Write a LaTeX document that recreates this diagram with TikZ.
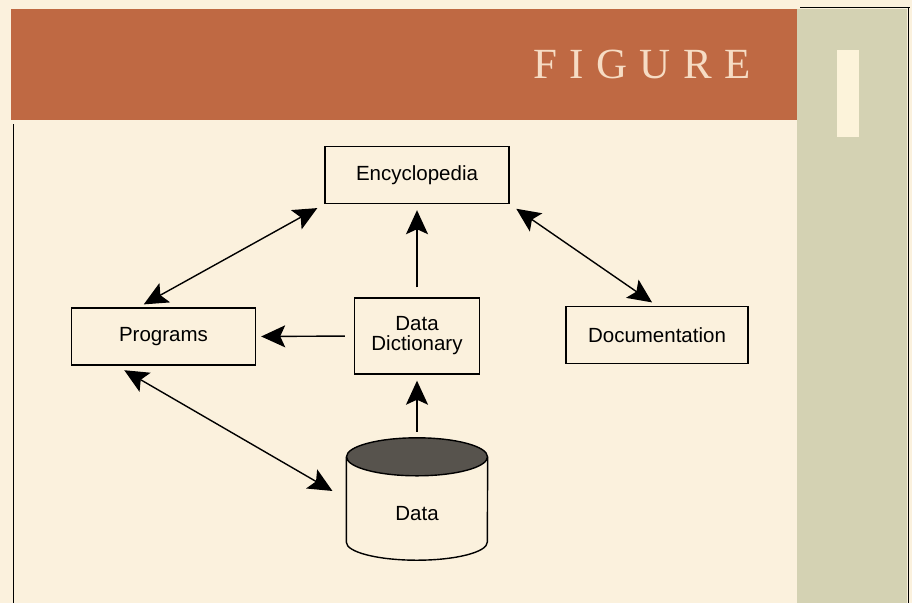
\documentclass[tikz,border=0pt]{standalone}
\usepackage{fontspec}
\setmainfont{Liberation Sans}
\newfontfamily\figfont[LetterSpace=29]{Liberation Serif}
\usepackage{tikz}
\usetikzlibrary{arrows.meta,positioning,calc}
\definecolor{paper}{HTML}{FBF1DD}
\definecolor{rust}{HTML}{BF6943}
\definecolor{sage}{HTML}{D4D2B3}
\definecolor{barlight}{HTML}{FCF3DA}
\definecolor{figtext}{HTML}{F6DCC4}
\definecolor{lid}{HTML}{57534D}

\begin{document}
\begin{tikzpicture}[x=1pt,y=-1pt,
		box/.style={draw,line width=1.4pt,minimum width=184pt,minimum height=57pt,align=center,inner sep=2pt,font=\fontsize{20.5}{20}\selectfont},
		e/.style={-{Stealth[length=24pt,width=22pt,inset=5pt]},line width=1.4pt},
		ee/.style={{Stealth[length=24pt,width=22pt,inset=5pt]}-{Stealth[length=24pt,width=22pt,inset=5pt]},line width=1.4pt}
		]
		\useasboundingbox (0,0) rectangle (912,603);
		\fill[paper] (0,0) rectangle (912,603);
		\fill[rust] (11,9) rectangle (797,120);
		\fill[sage] (797,9) rectangle (907,603);
		\fill[barlight] (837,50) rectangle (859,137);
		\draw[line width=1pt] (800,7) -- (910,7) (908,7) -- (908,603);
		\draw[line width=1pt] (13,124) -- (13,603);
		\node[anchor=base west,inner sep=0pt,text=figtext,font=\figfont\fontsize{43}{43}\selectfont] (fig) at (533,78) {FIGURE};
		\node[box] (enc) at (417,175) {Encyclopedia};
		\node[box] (prog) at (163.5,336.5) {Programs};
		\node[box,minimum width=125pt,minimum height=76pt] (dict) at (417,336) {Data\\Dictionary};
		\node[box,minimum width=182pt] (doc) at (657,335) {Documentation};
		\node[minimum width=141pt,minimum height=122pt] (data) at (417,499) {};
		\draw[line width=1.4pt] ([yshift=-19pt]data.north west) -- ([yshift=18pt]data.south west) arc[start angle=180,end angle=360,x radius=70.5pt,y radius=18pt] -- ([yshift=-19pt]data.north east);
		\draw[line width=1.4pt,fill=lid] ([yshift=-19pt]data.north) ellipse[x radius=70.5pt,y radius=19pt];
		\node[font=\fontsize{20.5}{20}\selectfont] (datatxt) at ([yshift=-15pt]data.center) {Data};
		\draw[e,shorten <=10pt,shorten >=6pt] (dict.north) -- (enc.south);
		\draw[e,shorten <=9pt,shorten >=5pt] (dict.west) -- (prog.east);
		\draw[e,shorten <=6pt,shorten >=6pt] (data.north) -- (dict.south);
		\draw[ee,shorten <=8pt,shorten >=6pt] (enc.south west) -- ([xshift=-25pt]prog.north);
		\draw[ee,shorten <=8pt,shorten >=6pt] (enc.south east) -- (doc.north);
		\draw[ee,shorten <=9pt,shorten >=16pt] ([xshift=-47pt]prog.south) -- (data.west);
	\end{tikzpicture}
\end{document}
